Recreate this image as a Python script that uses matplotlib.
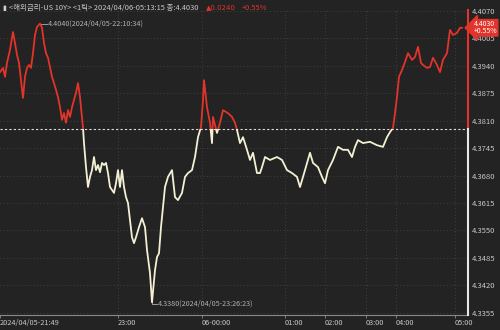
import numpy as np
import matplotlib.pyplot as plt
from matplotlib.patches import Rectangle

plt.rcParams['font.family'] = ['Noto Sans CJK KR', 'DejaVu Sans']

# tick number (trade sequence) and price
ticks = [0, 3, 5, 7, 10, 13, 15, 17, 19, 21, 23, 25, 27, 29, 31, 33, 35, 37, 40, 42,
         44, 46, 48, 50, 52, 54, 56, 58, 60, 62, 64, 66, 68, 70, 72, 74, 76, 78, 80, 82,
         83, 84, 86, 87, 88, 90, 92, 94, 96, 98, 100, 102, 104, 106, 108, 110, 112, 114, 116, 118,
         120, 122, 124, 126, 128, 130, 132, 134, 136, 139, 142, 145, 147, 150, 152, 155, 157, 159, 161, 163,
         165, 168, 172, 175, 178, 182, 185, 188, 192, 195, 198, 201, 203, 204, 207, 210, 212, 213, 217, 220,
         223, 228, 232, 235, 237, 240, 243, 247, 250, 253, 257, 260, 262, 265, 270, 277, 282, 287, 292, 297,
         300, 305, 310, 313, 318, 322, 325, 328, 333, 338, 343, 348, 352, 355, 358, 363, 370, 377, 383, 387,
         390, 393, 395, 397, 399, 402, 405, 408, 412, 415, 418, 421, 423, 427, 430, 433, 437, 440, 443, 447,
         450, 453, 457, 460, 462]
price = [4.3925, 4.3935, 4.3914, 4.3947, 4.3978, 4.4020, 4.3994, 4.3966, 4.3947, 4.3906,
         4.3864, 4.3914, 4.3935, 4.3942, 4.3935, 4.3970, 4.4013, 4.4032, 4.4040, 4.4030,
         4.3994, 4.3970, 4.3959, 4.3937, 4.3914, 4.3899, 4.3883, 4.3866, 4.3842, 4.3812,
         4.3828, 4.3805, 4.3835, 4.3819, 4.3842, 4.3859, 4.3876, 4.3899, 4.3866, 4.3819,
         4.3793, 4.3757, 4.3700, 4.3677, 4.3653, 4.3677, 4.3693, 4.3724, 4.3693, 4.3705,
         4.3688, 4.3710, 4.3705, 4.3710, 4.3686, 4.3653, 4.3646, 4.3639, 4.3662, 4.3693,
         4.3653, 4.3693, 4.3653, 4.3629, 4.3615, 4.3575, 4.3534, 4.3520, 4.3534, 4.3558,
         4.3579, 4.3558, 4.3504, 4.3449, 4.3380, 4.3456, 4.3487, 4.3496, 4.3558, 4.3605,
         4.3653, 4.3677, 4.3693, 4.3629, 4.3622, 4.3639, 4.3677, 4.3686, 4.3693, 4.3724,
         4.3771, 4.3795, 4.3859, 4.3906, 4.3842, 4.3805, 4.3757, 4.3819, 4.3781, 4.3805,
         4.3835, 4.3828, 4.3819, 4.3805, 4.3788, 4.3757, 4.3771, 4.3741, 4.3717, 4.3734,
         4.3686, 4.3686, 4.3700, 4.3724, 4.3717, 4.3724, 4.3717, 4.3693, 4.3686, 4.3677,
         4.3653, 4.3693, 4.3734, 4.3710, 4.3700, 4.3677, 4.3662, 4.3693, 4.3717, 4.3748,
         4.3741, 4.3741, 4.3724, 4.3748, 4.3764, 4.3757, 4.3760, 4.3752, 4.3748, 4.3771,
         4.3783, 4.3793, 4.3828, 4.3866, 4.3914, 4.3930, 4.3949, 4.3970, 4.3954, 4.3961,
         4.3985, 4.3947, 4.3942, 4.3935, 4.3937, 4.3959, 4.3942, 4.3925, 4.3954, 4.3970,
         4.4025, 4.4013, 4.4018, 4.4030, 4.4030]

prev_close = 4.3790
last = 4.4030
yticks = [4.4070, 4.4005, 4.3940, 4.3875, 4.3810, 4.3745, 4.3680, 4.3615, 4.3550, 4.3485, 4.3420, 4.3355]
time_pos = [0, 118, 202, 285, 325, 366, 396, 455]
time_labels = ['2024/04/05-21:49', '23:00', '06-00:00', '01:00', '02:00', '03:00', '04:00', '05:00']

bg = '#232323'
red = '#e2342a'
cream = '#f4f0d4'
txt = '#c8c8c8'
ylo, yhi = 4.33495, 4.40724

fig = plt.figure(figsize=(5, 3.3), dpi=100, facecolor=bg)
ax = fig.add_axes([0, 0.045, 0.936, 0.925], facecolor=bg)
ax.set_xlim(0, 468)
ax.set_ylim(ylo, yhi)

# grid
for y in yticks:
    ax.axhline(y, color='#4a4a4a', lw=0.6, ls=(0, (1, 3)), zorder=1)
for x in time_pos[1:]:
    ax.axvline(x, color='#4a4a4a', lw=0.6, ls=(0, (1, 3)), zorder=1)

# price line, red above previous close, cream below
for col, lo, hi in [(red, prev_close, 5), (cream, 4, prev_close)]:
    ln, = ax.plot(ticks, price, color=col, lw=1.3, zorder=3)
    clip = Rectangle((-10, lo), 500, hi - lo, transform=ax.transData)
    ln.set_clip_path(clip)

ax.axhline(prev_close, color='#e0e0e0', lw=0.8, ls=(0, (2, 2)), zorder=2)

# high / low notes
i_hi = int(np.argmax(price))
i_lo = int(np.argmin(price))
ax.plot([ticks[i_hi], ticks[i_hi] + 7], [price[i_hi]] * 2, color='#b0b0b0', lw=0.6)
ax.text(ticks[i_hi] + 8, price[i_hi], '4.4040(2024/04/05-22:10:34)', color='#b0b0b0',
        fontsize=5.2, va='center', ha='left')
ax.plot([ticks[i_lo], ticks[i_lo], ticks[i_lo] + 5],
        [price[i_lo], price[i_lo] - 0.0003, price[i_lo] - 0.0003], color='#b0b0b0', lw=0.6)
ax.text(ticks[i_lo] + 6, price[i_lo] - 0.0003, '4.3380(2024/04/05-23:26:23)', color='#b0b0b0',
        fontsize=5.2, va='center', ha='left')

# axes styling
for s in ['top', 'left', 'right']:
    ax.spines[s].set_visible(False)
ax.spines['bottom'].set_color('#8a8a8a')
ax.plot([468, 468], [prev_close, yhi], color=red, lw=1.5, clip_on=False, zorder=5)
ax.plot([468, 468], [ylo, prev_close], color='#e8e8e8', lw=1.5, clip_on=False, zorder=5)

ax.yaxis.tick_right()
ax.set_yticks(yticks)
ax.set_yticklabels([f'{v:.4f}' for v in yticks])
ax.tick_params(axis='y', length=0, pad=3, labelsize=5.5, labelcolor=txt)
ax.set_xticks(time_pos)
ax.set_xticklabels(time_labels, ha='left')
ax.tick_params(axis='x', length=2, width=0.6, color='#8a8a8a', pad=0.5, labelsize=5.3, labelcolor=txt)

# last price tag
ax.annotate(f'{last:.4f}\n+0.55%', xy=(1.0, last), xycoords=('axes fraction', 'data'),
            xytext=(4, 0), textcoords='offset points', ha='left', va='center',
            fontsize=5, color='white', linespacing=0.85,
            bbox=dict(boxstyle='larrow,pad=0.1', fc=red, ec=red), annotation_clip=False)

# header
fig.text(0.004, 0.985, '▮', color='#d0d0d0', fontsize=5, va='top', family=['DejaVu Sans'])
fig.text(0.018, 0.988, '<해외금리-US 10Y> <1틱> 2024/04/06-05:13:15 종:4.4030', color=txt,
         fontsize=5.4, va='top')
fig.text(0.412, 0.988, '▲0.0240', color=red, fontsize=5.0, va='top', family=['DejaVu Sans'])
fig.text(0.484, 0.988, '+0.55%', color=red, fontsize=5.4, va='top')

fig.savefig('out.png', dpi=100, facecolor=bg)
